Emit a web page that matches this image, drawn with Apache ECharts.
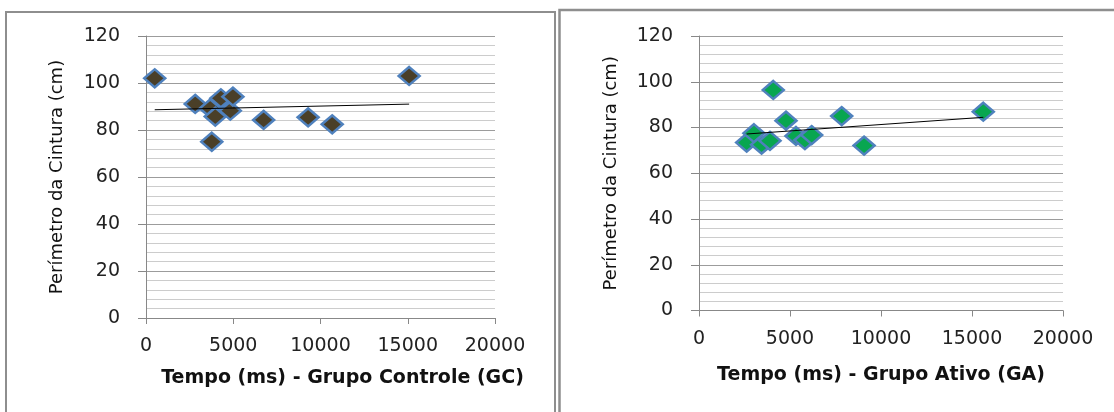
<!DOCTYPE html>
<html>
<head>
<meta charset="utf-8">
<script src="https://cdn.jsdelivr.net/npm/echarts@6/dist/echarts.min.js"></script>
<style>
  html, body { margin: 0; padding: 0; background: #fff; }
  #main { width: 1114px; height: 412px; }
</style>
</head>
<body>
<div id="main"></div>
<script>
// Grupo Controle (GC)
var gcTempo = [500, 2820, 3680, 3770, 3970, 4290, 4830, 4980, 6740, 9290, 10670, 15080]
var gcCintura = [102, 91.1, 89.2, 75, 85.7, 93.5, 88.2, 94.2, 84.3, 85.4, 82.4, 103]

// Grupo Ativo (GA)
var gaTempo = [2620, 3020, 3440, 3900, 4080, 4780, 5330, 5820, 6190, 7840, 9070, 15620]
var gaCintura = [73.4, 77.5, 72.5, 74.2, 96.4, 83, 76.3, 74.5, 76.7, 85, 72.1, 86.9]

var xTicks = [0, 5000, 10000, 15000, 20000]
var yTicks = [0, 20, 40, 60, 80, 100, 120]

var font = 'DejaVu Sans'

function pairs(xs, ys) {
    return xs.map(function (x, i) { return [x, ys[i]] })
}

// linear trendline (least squares), drawn from min x to max x
function trend(xs, ys) {
    var n = xs.length, mx = 0, my = 0
    for (var i = 0; i < n; i++) { mx += xs[i]; my += ys[i] }
    mx /= n; my /= n
    var sxy = 0, sxx = 0
    for (var j = 0; j < n; j++) {
        sxy += (xs[j] - mx) * (ys[j] - my)
        sxx += (xs[j] - mx) * (xs[j] - mx)
    }
    var b = sxy / sxx, a = my - b * mx
    var x0 = Math.min.apply(null, xs), x1 = Math.max.apply(null, xs)
    return [[x0, a + b * x0], [x1, a + b * x1]]
}

function xAxis(idx, name, nameGap, pad) {
    return {
        type: 'value', gridIndex: idx,
        min: xTicks[0], max: xTicks[xTicks.length - 1], interval: xTicks[1] - xTicks[0],
        name: name, nameLocation: 'middle', nameGap: nameGap,
        nameTextStyle: { fontFamily: font, fontSize: 19, fontWeight: 'bold', color: '#111', padding: pad },
        axisLine: { show: true, lineStyle: { color: '#888', width: 1 } },
        axisTick: { show: true, length: 6, lineStyle: { color: '#888' } },
        axisLabel: {
            fontFamily: font, fontSize: 19, color: '#222', margin: 19,
            formatter: function (v) { return String(v) }
        },
        splitLine: { show: false }
    }
}

function yAxis(idx, nameGap) {
    return {
        type: 'value', gridIndex: idx,
        min: yTicks[0], max: yTicks[yTicks.length - 1], interval: yTicks[1] - yTicks[0],
        name: 'Perímetro da Cintura (cm)', nameLocation: 'middle', nameGap: nameGap,
        nameTextStyle: { fontFamily: font, fontSize: 18, color: '#111' },
        axisLine: { show: true, lineStyle: { color: '#888', width: 1 } },
        axisTick: { show: true, length: 8, lineStyle: { color: '#888' } },
        axisLabel: { fontFamily: font, fontSize: 19, color: '#222', margin: 26 },
        splitLine: { show: true, lineStyle: { color: '#9c9c9c', width: 1 } },
        minorTick: { show: false, splitNumber: 5 },
        minorSplitLine: { show: true, lineStyle: { color: '#cccccc', width: 1 } }
    }
}

function scatter(idx, data, fill) {
    return {
        type: 'scatter', xAxisIndex: idx, yAxisIndex: idx,
        symbol: 'diamond', symbolSize: [21, 18],
        itemStyle: { color: fill, borderColor: '#4f81bd', borderWidth: 2.5, opacity: 1 },
        data: data, z: 3
    }
}

function trendLine(idx, data) {
    return {
        type: 'line', xAxisIndex: idx, yAxisIndex: idx,
        symbol: 'none', silent: true,
        lineStyle: { color: '#000', width: 1 },
        data: data, z: 4
    }
}

var myChart = echarts.init(document.getElementById('main'))

var option = {
    backgroundColor: '#fff',
    animation: false,
    graphic: [
        { type: 'rect', shape: { x: 6, y: 12, width: 549, height: 420 },
          style: { fill: 'none', stroke: '#8e8e8e', lineWidth: 2 } },
        { type: 'rect', shape: { x: 559.5, y: 10, width: 600, height: 420 },
          style: { fill: 'none', stroke: '#8e8e8e', lineWidth: 2.5 } }
    ],
    grid: [
        { left: 146, top: 36, width: 349, height: 282 },
        { left: 699, top: 36, width: 364, height: 274.5 }
    ],
    xAxis: [
        xAxis(0, 'Tempo (ms) - Grupo Controle (GC)', 51, [0, 0, 0, 44]),
        xAxis(1, 'Tempo (ms) - Grupo Ativo (GA)', 55, 0)
    ],
    yAxis: [yAxis(0, 80), yAxis(1, 79)],
    series: [
        scatter(0, pairs(gcTempo, gcCintura), '#4a3f28'),
        trendLine(0, trend(gcTempo, gcCintura)),
        scatter(1, pairs(gaTempo, gaCintura), '#08a650'),
        trendLine(1, trend(gaTempo, gaCintura))
    ]
}

myChart.setOption(option)
</script>
</body>
</html>
